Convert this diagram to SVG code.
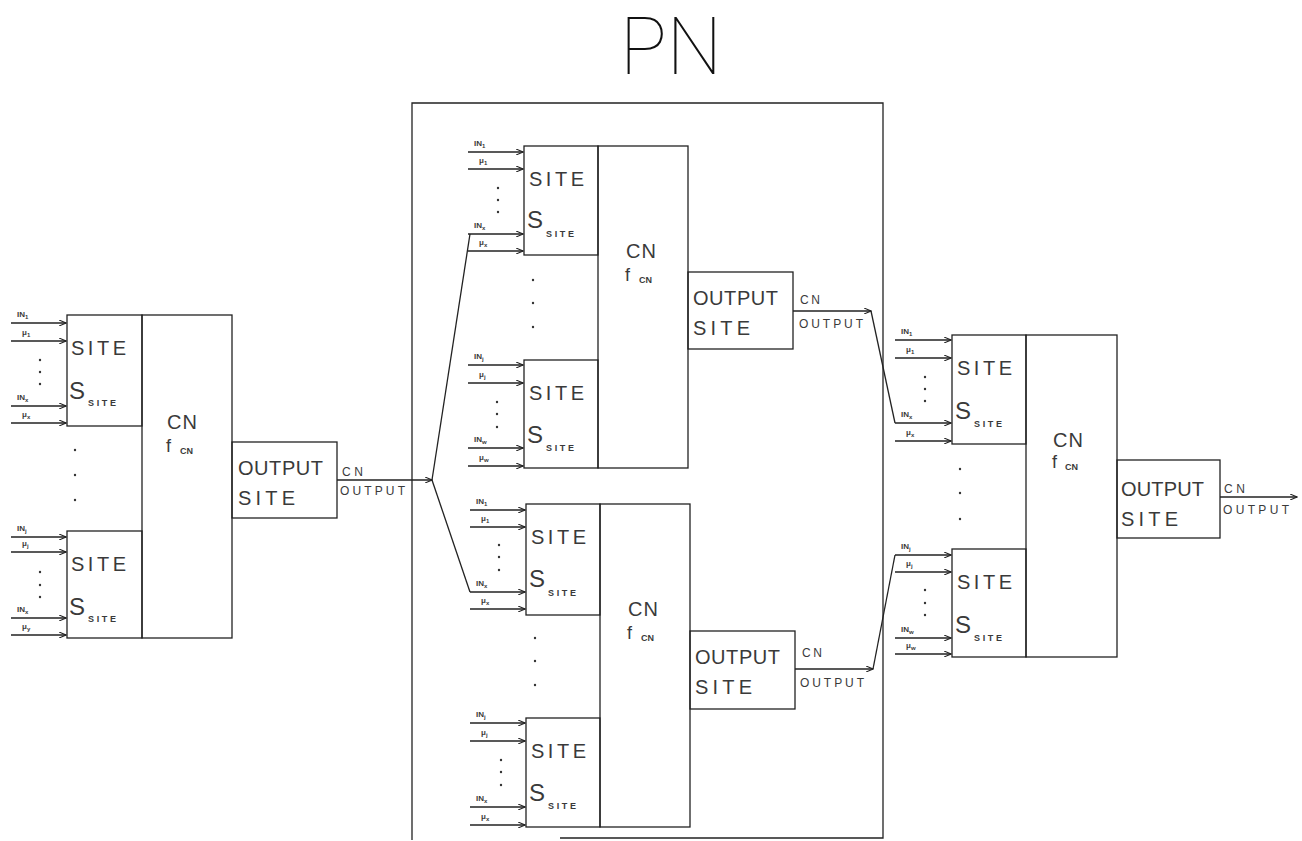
<svg xmlns="http://www.w3.org/2000/svg" width="1302" height="841" viewBox="0 0 1302 841">
<style>
.bx{fill:none;stroke:#222;stroke-width:1.3}
.ln{fill:none;stroke:#222;stroke-width:1.3}
.ar{fill:none;stroke:#222;stroke-width:1.3;marker-end:url(#ah)}
.t{font-family:"Liberation Sans",Arial,sans-serif;fill:#3a3a3a}
.big{font-size:20px}
.s{font-size:24px}
.sub{font-size:9px;font-weight:bold}
.lbl{font-size:8px;font-weight:bold}
.ls{font-size:6px;font-weight:bold}
.ol{font-size:12px}
.f{font-size:18px}
.d{fill:#333}
.title{font-family:Roboto,"Liberation Sans",sans-serif;font-weight:100;font-size:80px;fill:#111}
</style>
<defs>
<marker id="ah" markerWidth="8" markerHeight="6" refX="7" refY="3" orient="auto" markerUnits="userSpaceOnUse">
<path d="M0,0 L7,3 L0,6" fill="none" stroke="#222" stroke-width="1.1"/>
</marker>
</defs>
<rect width="1302" height="841" fill="#fff"/>
<text id="title" class="title" x="620" y="74" textLength="102" lengthAdjust="spacingAndGlyphs">PN</text>

<g id="pn-box">
<path class="ln" d="M412,840 L412,103 L883,103 L883,838 L560,838"/>
</g>

<!-- Left CN -->
<g id="cn-left">
<rect class="bx" x="142" y="315" width="90" height="323"/>
<rect class="bx" x="67" y="315" width="75" height="111"/>
<rect class="bx" x="67" y="531" width="75" height="107"/>
<rect class="bx" x="232" y="442" width="105" height="76"/>
<text class="t big" x="71" y="355" textLength="55">SITE</text>
<text class="t s" x="69" y="399">S</text>
<text class="t sub" x="88" y="406" textLength="28">SITE</text>
<text class="t big" x="71" y="571" textLength="55">SITE</text>
<text class="t s" x="69" y="615">S</text>
<text class="t sub" x="88" y="622" textLength="28">SITE</text>
<text class="t big" x="167" y="429" textLength="30">CN</text>
<text class="t f" x="166" y="452">f</text><text class="t sub" x="180" y="454">CN</text>
<text class="t big" x="238" y="475" textLength="85">OUTPUT</text>
<text class="t big" x="238" y="505" textLength="57">SITE</text>
<line class="ar" x1="11" y1="323" x2="66" y2="323"/>
<line class="ar" x1="11" y1="341" x2="66" y2="341"/>
<line class="ar" x1="11" y1="406" x2="66" y2="406"/>
<line class="ar" x1="11" y1="423" x2="66" y2="423"/>
<text class="t lbl" x="17" y="317">IN<tspan class="ls" dy="2">1</tspan></text>
<text class="t lbl" x="22" y="335">μ<tspan class="ls" dy="2">1</tspan></text>
<text class="t lbl" x="17" y="400">IN<tspan class="ls" dy="2">x</tspan></text>
<text class="t lbl" x="22" y="417">μ<tspan class="ls" dy="2">x</tspan></text>
<line class="ar" x1="11" y1="537" x2="66" y2="537"/>
<line class="ar" x1="11" y1="552" x2="66" y2="552"/>
<line class="ar" x1="11" y1="618" x2="66" y2="618"/>
<line class="ar" x1="11" y1="635" x2="66" y2="635"/>
<text class="t lbl" x="17" y="531">IN<tspan class="ls" dy="2">j</tspan></text>
<text class="t lbl" x="22" y="546">μ<tspan class="ls" dy="2">j</tspan></text>
<text class="t lbl" x="17" y="612">IN<tspan class="ls" dy="2">x</tspan></text>
<text class="t lbl" x="22" y="629">μ<tspan class="ls" dy="2">y</tspan></text>
<circle class="d" cx="40" cy="360" r="1.2"/><circle class="d" cx="40" cy="372" r="1.2"/><circle class="d" cx="40" cy="384" r="1.2"/>
<circle class="d" cx="40" cy="572" r="1.2"/><circle class="d" cx="40" cy="585" r="1.2"/><circle class="d" cx="40" cy="597" r="1.2"/>
<circle class="d" cx="75" cy="450" r="1.2"/><circle class="d" cx="75" cy="475" r="1.2"/><circle class="d" cx="75" cy="500" r="1.2"/>
</g>

<!-- Middle top CN -->
<g id="cn-mid-top">
<rect class="bx" x="598" y="146" width="90" height="322"/>
<rect class="bx" x="524" y="146" width="74" height="109"/>
<rect class="bx" x="524" y="360" width="74" height="108"/>
<rect class="bx" x="688" y="272" width="105" height="77"/>
<text class="t big" x="529" y="186" textLength="55">SITE</text>
<text class="t s" x="527" y="228">S</text>
<text class="t sub" x="546" y="237" textLength="28">SITE</text>
<text class="t big" x="529" y="400" textLength="55">SITE</text>
<text class="t s" x="527" y="443">S</text>
<text class="t sub" x="546" y="451" textLength="28">SITE</text>
<text class="t big" x="626" y="258" textLength="30">CN</text>
<text class="t f" x="625" y="281">f</text><text class="t sub" x="639" y="283">CN</text>
<text class="t big" x="693" y="305" textLength="85">OUTPUT</text>
<text class="t big" x="693" y="335" textLength="57">SITE</text>
<line class="ar" x1="468" y1="152" x2="523" y2="152"/>
<line class="ar" x1="468" y1="169" x2="523" y2="169"/>
<line class="ar" x1="468" y1="234" x2="523" y2="234"/>
<line class="ar" x1="468" y1="251" x2="523" y2="251"/>
<text class="t lbl" x="474" y="146">IN<tspan class="ls" dy="2">1</tspan></text>
<text class="t lbl" x="479" y="163">μ<tspan class="ls" dy="2">1</tspan></text>
<text class="t lbl" x="474" y="228">IN<tspan class="ls" dy="2">x</tspan></text>
<text class="t lbl" x="479" y="245">μ<tspan class="ls" dy="2">x</tspan></text>
<line class="ar" x1="468" y1="365" x2="523" y2="365"/>
<line class="ar" x1="468" y1="383" x2="523" y2="383"/>
<line class="ar" x1="468" y1="448" x2="523" y2="448"/>
<line class="ar" x1="468" y1="466" x2="523" y2="466"/>
<text class="t lbl" x="474" y="359">IN<tspan class="ls" dy="2">j</tspan></text>
<text class="t lbl" x="479" y="377">μ<tspan class="ls" dy="2">j</tspan></text>
<text class="t lbl" x="474" y="442">IN<tspan class="ls" dy="2">w</tspan></text>
<text class="t lbl" x="479" y="460">μ<tspan class="ls" dy="2">w</tspan></text>
<circle class="d" cx="498" cy="188" r="1.2"/><circle class="d" cx="498" cy="200" r="1.2"/><circle class="d" cx="498" cy="212" r="1.2"/>
<circle class="d" cx="497" cy="402" r="1.2"/><circle class="d" cx="497" cy="414" r="1.2"/><circle class="d" cx="497" cy="427" r="1.2"/>
<circle class="d" cx="533" cy="280" r="1.2"/><circle class="d" cx="533" cy="303" r="1.2"/><circle class="d" cx="533" cy="327" r="1.2"/>
</g>

<!-- Middle bottom CN -->
<g id="cn-mid-bottom">
<rect class="bx" x="600" y="504" width="90" height="323"/>
<rect class="bx" x="526" y="504" width="74" height="111"/>
<rect class="bx" x="526" y="718" width="74" height="109"/>
<rect class="bx" x="690" y="631" width="105" height="78"/>
<text class="t big" x="531" y="544" textLength="55">SITE</text>
<text class="t s" x="529" y="587">S</text>
<text class="t sub" x="548" y="596" textLength="28">SITE</text>
<text class="t big" x="531" y="758" textLength="55">SITE</text>
<text class="t s" x="529" y="801">S</text>
<text class="t sub" x="548" y="809" textLength="28">SITE</text>
<text class="t big" x="628" y="616" textLength="30">CN</text>
<text class="t f" x="627" y="639">f</text><text class="t sub" x="641" y="641">CN</text>
<text class="t big" x="695" y="664" textLength="85">OUTPUT</text>
<text class="t big" x="695" y="694" textLength="57">SITE</text>
<line class="ar" x1="470" y1="510" x2="525" y2="510"/>
<line class="ar" x1="470" y1="527" x2="525" y2="527"/>
<line class="ar" x1="470" y1="592" x2="525" y2="592"/>
<line class="ar" x1="470" y1="609" x2="525" y2="609"/>
<text class="t lbl" x="476" y="504">IN<tspan class="ls" dy="2">1</tspan></text>
<text class="t lbl" x="481" y="521">μ<tspan class="ls" dy="2">1</tspan></text>
<text class="t lbl" x="476" y="586">IN<tspan class="ls" dy="2">x</tspan></text>
<text class="t lbl" x="481" y="603">μ<tspan class="ls" dy="2">x</tspan></text>
<line class="ar" x1="470" y1="723" x2="525" y2="723"/>
<line class="ar" x1="470" y1="741" x2="525" y2="741"/>
<line class="ar" x1="470" y1="807" x2="525" y2="807"/>
<line class="ar" x1="470" y1="825" x2="525" y2="825"/>
<text class="t lbl" x="476" y="717">IN<tspan class="ls" dy="2">j</tspan></text>
<text class="t lbl" x="481" y="735">μ<tspan class="ls" dy="2">j</tspan></text>
<text class="t lbl" x="476" y="801">IN<tspan class="ls" dy="2">x</tspan></text>
<text class="t lbl" x="481" y="819">μ<tspan class="ls" dy="2">x</tspan></text>
<circle class="d" cx="499" cy="545" r="1.2"/><circle class="d" cx="499" cy="557" r="1.2"/><circle class="d" cx="499" cy="570" r="1.2"/>
<circle class="d" cx="501" cy="760" r="1.2"/><circle class="d" cx="501" cy="772" r="1.2"/><circle class="d" cx="501" cy="785" r="1.2"/>
<circle class="d" cx="535" cy="638" r="1.2"/><circle class="d" cx="535" cy="661" r="1.2"/><circle class="d" cx="535" cy="685" r="1.2"/>
</g>

<!-- Right CN -->
<g id="cn-right">
<rect class="bx" x="1026" y="335" width="91" height="322"/>
<rect class="bx" x="952" y="335" width="74" height="109"/>
<rect class="bx" x="952" y="549" width="74" height="108"/>
<rect class="bx" x="1117" y="460" width="103" height="78"/>
<text class="t big" x="957" y="375" textLength="55">SITE</text>
<text class="t s" x="955" y="419">S</text>
<text class="t sub" x="974" y="427" textLength="28">SITE</text>
<text class="t big" x="957" y="589" textLength="55">SITE</text>
<text class="t s" x="955" y="633">S</text>
<text class="t sub" x="974" y="641" textLength="28">SITE</text>
<text class="t big" x="1053" y="447" textLength="30">CN</text>
<text class="t f" x="1052" y="468">f</text><text class="t sub" x="1065" y="470">CN</text>
<text class="t big" x="1121" y="496" textLength="83">OUTPUT</text>
<text class="t big" x="1121" y="526" textLength="57">SITE</text>
<line class="ar" x1="895" y1="340" x2="951" y2="340"/>
<line class="ar" x1="895" y1="358" x2="951" y2="358"/>
<line class="ar" x1="895" y1="423" x2="951" y2="423"/>
<line class="ar" x1="895" y1="441" x2="951" y2="441"/>
<text class="t lbl" x="901" y="334">IN<tspan class="ls" dy="2">1</tspan></text>
<text class="t lbl" x="906" y="352">μ<tspan class="ls" dy="2">1</tspan></text>
<text class="t lbl" x="901" y="417">IN<tspan class="ls" dy="2">x</tspan></text>
<text class="t lbl" x="906" y="435">μ<tspan class="ls" dy="2">x</tspan></text>
<line class="ar" x1="895" y1="555" x2="951" y2="555"/>
<line class="ar" x1="895" y1="572" x2="951" y2="572"/>
<line class="ar" x1="895" y1="638" x2="951" y2="638"/>
<line class="ar" x1="895" y1="654" x2="951" y2="654"/>
<text class="t lbl" x="901" y="549">IN<tspan class="ls" dy="2">j</tspan></text>
<text class="t lbl" x="906" y="566">μ<tspan class="ls" dy="2">j</tspan></text>
<text class="t lbl" x="901" y="632">IN<tspan class="ls" dy="2">w</tspan></text>
<text class="t lbl" x="906" y="648">μ<tspan class="ls" dy="2">w</tspan></text>
<circle class="d" cx="925" cy="377" r="1.2"/><circle class="d" cx="925" cy="389" r="1.2"/><circle class="d" cx="925" cy="401" r="1.2"/>
<circle class="d" cx="925" cy="590" r="1.2"/><circle class="d" cx="925" cy="603" r="1.2"/><circle class="d" cx="925" cy="615" r="1.2"/>
<circle class="d" cx="960" cy="469" r="1.2"/><circle class="d" cx="960" cy="493" r="1.2"/><circle class="d" cx="960" cy="519" r="1.2"/>
</g>

<g id="connectors">
<line class="ar" x1="337" y1="480" x2="432" y2="480"/>
<polyline class="ln" points="432,480 470,234"/>
<polyline class="ln" points="432,480 470,592"/>
<line class="ar" x1="793" y1="311" x2="871" y2="311"/>
<polyline class="ln" points="871,311 895,423"/>
<line class="ar" x1="795" y1="669" x2="873" y2="669"/>
<polyline class="ln" points="873,669 895,555"/>
<line class="ar" x1="1220" y1="497" x2="1297" y2="497"/>
<text class="t ol" x="342" y="476" textLength="21">CN</text>
<text class="t ol" x="340" y="495" textLength="65">OUTPUT</text>
<text class="t ol" x="800" y="304" textLength="20">CN</text>
<text class="t ol" x="799" y="328" textLength="64">OUTPUT</text>
<text class="t ol" x="802" y="657" textLength="20">CN</text>
<text class="t ol" x="800" y="687" textLength="64">OUTPUT</text>
<text class="t ol" x="1224" y="493" textLength="21">CN</text>
<text class="t ol" x="1223" y="514" textLength="66">OUTPUT</text>
</g>
</svg>
